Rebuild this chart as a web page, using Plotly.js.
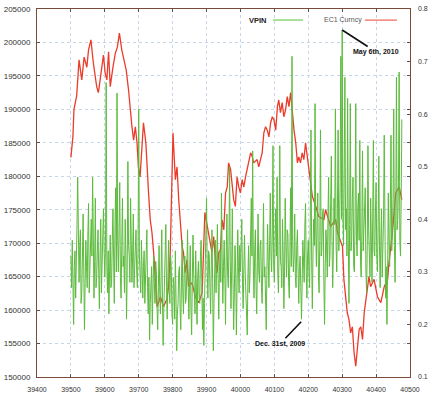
<!DOCTYPE html>
<html>
<head>
<meta charset="utf-8">
<script src="https://cdn.plot.ly/plotly-3.0.1.min.js"></script>
<style>html,body{margin:0;padding:0;background:#fff;}#chart{width:430px;height:400px;}</style>
</head>
<body>
<div id="chart"></div>
<script>
// EC1 Curncy (left axis)
const ecX = [39500,39506,39509,39517,39524,39532,39539,39547,39552,39559,39566,39576,39581,39591,39596,39601,39606,39611,39616,39624,39631,39637,39643,39650,39657,39663,39670,39675,39680,39685,39690,39695,39699,39704,39710,39714,39721,39724,39729,39734,39739,39744,39749,39754,39764,39773,39783,39788,39793,39798,39801,39808,39813,39818,39823,39828,39832,39837,39842,39847,39857,39867,39877,39887,39895,39902,39906,39911,39916,39921,39926,39931,39936,39941,39946,39951,39956,39961,39965,39971,39980,39985,39990,39995,40000,40005,40010,40015,40025,40030,40035,40039,40049,40054,40059,40064,40069,40074,40079,40084,40089,40094,40099,40104,40109,40113,40118,40123,40128,40133,40138,40143,40148,40153,40158,40163,40168,40172,40177,40182,40187,40192,40197,40202,40207,40212,40222,40231,40246,40251,40266,40281,40286,40301,40305,40310,40315,40320,40325,40330,40335,40340,40345,40350,40355,40360,40365,40370,40379,40384,40394,40404,40414,40424,40434,40438,40448,40458,40468,40476];
const ecY = [182800,186000,190000,192000,197400,194400,197800,196300,198900,200400,197000,193400,192500,196300,198100,195400,194400,198600,193400,196300,198400,199300,201400,198900,197400,195900,192900,189900,187400,185400,187400,185000,181400,179900,184000,188000,185000,181400,177500,173500,171600,168600,163500,160500,162000,160500,161600,163500,168600,177500,186500,179500,181400,176500,172500,169500,168600,165600,167500,163500,164100,162000,161100,162600,174600,172500,171600,169500,168600,171000,167500,165600,168600,169000,173500,172000,177500,178400,182000,181000,176500,175500,179900,178400,177500,179500,178400,179900,182500,183500,182900,182000,182500,181400,182500,183500,186500,187400,186900,185900,188000,188900,188400,186900,190400,191400,189500,191000,188900,189900,191900,190400,192500,188900,186900,185000,182000,182900,182000,183500,182500,185000,182900,181000,179500,177000,175500,174000,173500,175000,172500,173500,171600,169500,164600,162000,159600,158600,156600,157500,153700,151600,154600,157100,157500,155600,159600,161600,165000,163500,164600,162000,161100,163500,164600,167100,171600,177500,178400,176500];

// VPIN (right axis), sampled every 2 units from 39500
const vpinStart = 39500;
const vpinStep = 2;
const vpinY = [
0.33,0.27,0.36,0.29,0.20,0.31,0.34,0.25,0.30,0.39,0.48,0.32,0.28,0.35,0.38,0.24,0.26,0.33,0.41,0.30,0.19,0.28,0.36,0.31,0.27,0.37,0.43,0.26,0.30,0.35,0.40,0.33,0.48,0.37,0.25,0.32,0.44,0.27,0.29,0.34,0.38,0.30,0.23,0.33,0.40,0.26,0.31,0.36,0.42,0.34,
0.29,0.35,0.66,0.31,0.26,0.34,0.22,0.30,0.37,0.27,0.28,0.36,0.42,0.32,0.24,0.39,0.46,0.30,0.64,0.36,0.30,0.38,0.47,0.29,0.25,0.35,0.44,0.31,0.33,0.26,0.40,0.34,0.21,0.30,0.51,0.35,0.33,0.28,0.44,0.36,0.28,0.33,0.41,0.27,0.31,0.36,0.38,0.30,0.27,0.34,
0.61,0.33,0.30,0.26,0.36,0.29,0.25,0.31,0.34,0.24,0.28,0.33,0.38,0.27,0.22,0.29,0.17,0.24,0.27,0.31,0.20,0.25,0.33,0.28,0.24,0.32,0.30,0.23,0.19,0.27,0.35,0.26,0.22,0.30,0.38,0.25,0.16,0.23,0.30,0.34,0.39,0.27,0.21,0.29,0.36,0.26,0.24,0.33,0.31,0.22,
0.20,0.29,0.27,0.21,0.34,0.25,0.15,0.22,0.24,0.30,0.31,0.23,0.19,0.28,0.36,0.26,0.22,0.30,0.33,0.24,0.25,0.31,0.38,0.27,0.21,0.29,0.35,0.23,0.18,0.28,0.37,0.30,0.26,0.22,0.34,0.27,0.20,0.29,0.32,0.25,0.24,0.33,0.36,0.28,0.19,0.25,0.16,0.24,0.30,0.35,
0.44,0.30,0.25,0.34,0.33,0.27,0.22,0.31,0.38,0.28,0.15,0.24,0.31,0.36,0.26,0.32,0.39,0.29,0.21,0.30,0.34,0.28,0.45,0.33,0.24,0.31,0.36,0.29,0.20,0.33,0.41,0.30,0.27,0.35,0.50,0.32,0.23,0.30,0.42,0.28,0.19,0.26,0.35,0.30,0.18,0.27,0.38,0.31,0.26,0.35,
0.30,0.35,0.40,0.28,0.23,0.31,0.37,0.30,0.27,0.22,0.18,0.29,0.35,0.26,0.29,0.37,0.44,0.33,0.53,0.31,0.25,0.34,0.38,0.27,0.22,0.32,0.41,0.30,0.28,0.35,0.36,0.27,0.24,0.33,0.43,0.29,0.31,0.25,0.19,0.30,0.39,0.32,0.27,0.36,0.45,0.33,0.30,0.38,0.54,0.31,
0.28,0.36,0.42,0.33,0.48,0.30,0.26,0.35,0.54,0.32,0.31,0.27,0.40,0.33,0.23,0.30,0.44,0.35,0.29,0.38,0.37,0.28,0.25,0.34,0.46,0.31,0.71,0.36,0.30,0.33,0.41,0.29,0.27,0.35,0.38,0.30,0.24,0.31,0.33,0.27,0.21,0.28,0.36,0.32,0.28,0.39,0.43,0.30,0.25,0.33,
0.36,0.30,0.27,0.41,0.57,0.32,0.23,0.34,0.40,0.35,0.62,0.38,0.31,0.40,0.45,0.29,0.26,0.36,0.57,0.33,0.34,0.41,0.42,0.28,0.20,0.31,0.38,0.35,0.29,0.40,0.48,0.31,0.33,0.43,0.52,0.36,0.27,0.34,0.44,0.39,0.61,0.35,0.30,0.42,0.57,0.34,0.38,0.47,0.71,0.40,
0.76,0.41,0.35,0.50,0.67,0.38,0.42,0.33,0.63,0.36,0.24,0.39,0.62,0.34,0.36,0.44,0.48,0.31,0.30,0.40,0.62,0.37,0.33,0.42,0.45,0.36,0.55,0.32,0.29,0.38,0.53,0.34,0.37,0.43,0.46,0.30,0.26,0.35,0.54,0.38,0.35,0.29,0.44,0.37,0.28,0.40,0.55,0.34,0.33,0.41,
0.47,0.33,0.30,0.39,0.52,0.35,0.27,0.36,0.42,0.29,0.34,0.40,0.56,0.33,0.25,0.31,0.20,0.30,0.45,0.36,0.31,0.42,0.56,0.34,0.37,0.44,0.61,0.35,0.28,0.40,0.67,0.38,0.40,0.47,0.68,0.36,0.33,0.44,0.59
];
const vpinX = vpinY.map((_, i) => vpinStart + i * vpinStep);

const xTicks = [39400,39500,39600,39700,39800,39900,40000,40100,40200,40300,40400,40500];

const tickFamily = '"Liberation Sans Narrow", "Arial Narrow", "Liberation Sans", Arial, sans-serif';
const frame = '#7a4a3a';
const grid = '#c6d6e8';

const traces = [
  {x: ecX, y: ecY, type: 'scatter', mode: 'lines', name: 'EC1 Curncy',
   line: {color: '#ec3b2a', width: 1.3}, yaxis: 'y', showlegend: false, hoverinfo: 'skip'},
  {x: vpinX, y: vpinY, type: 'scatter', mode: 'lines', name: 'VPIN',
   line: {color: '#5cbb3c', width: 1}, yaxis: 'y2', showlegend: false, hoverinfo: 'skip'}
];

const layout = {
  width: 430, height: 400,
  margin: {l: 37, r: 20, t: 9, b: 23, pad: 0},
  paper_bgcolor: '#fff', plot_bgcolor: '#fff',
  showlegend: false,
  xaxis: {
    range: [39400, 40500], tickvals: xTicks, tickformat: 'd',
    showgrid: true, gridcolor: grid, griddash: 'dot', gridwidth: 1,
    showline: true, linecolor: frame, linewidth: 1, mirror: 'ticks',
    ticks: 'inside', ticklen: 3, tickcolor: '#555',
    tickfont: {family: tickFamily, size: 7, color: '#333'},
    zeroline: false, ticklabelstandoff: 6
  },
  yaxis: {
    range: [150000, 205000], dtick: 5000, tick0: 150000, tickformat: 'd',
    showgrid: true, gridcolor: grid, griddash: 'dot', gridwidth: 1,
    showline: true, linecolor: frame, linewidth: 1, mirror: 'ticks',
    ticks: 'inside', ticklen: 3, tickcolor: '#555',
    tickfont: {family: tickFamily, size: 8, color: '#333'},
    zeroline: false, ticklabelstandoff: 4
  },
  yaxis2: {
    overlaying: 'y', side: 'right',
    range: [0.1, 0.8], dtick: 0.1, tick0: 0.1, tickformat: '.1f',
    showgrid: false, showline: false, zeroline: false,
    ticks: 'inside', ticklen: 3, tickcolor: '#555',
    tickfont: {family: tickFamily, size: 7, color: '#333'},
    ticklabelstandoff: 7
  },
  shapes: [
    {type: 'rect', xref: 'paper', yref: 'paper', x0: 0.383, x1: 0.998, y0: 0.90, y1: 0.998,
     fillcolor: '#fff', line: {width: 0}, layer: 'between'},
    {type: 'line', xref: 'paper', yref: 'paper', x0: 0.633, x1: 0.713, y0: 0.970, y1: 0.970,
     line: {color: '#7ccf60', width: 1.3}},
    {type: 'line', xref: 'paper', yref: 'paper', x0: 0.879, x1: 0.965, y0: 0.970, y1: 0.970,
     line: {color: '#f06a5a', width: 1.3}}
  ],
  annotations: [
    {xref: 'paper', yref: 'paper', x: 0.563, y: 0.970, xanchor: 'left', yanchor: 'middle',
     text: '<b>VPIN</b>', showarrow: false,
     font: {family: 'Liberation Sans, Arial, sans-serif', size: 7.5, color: '#222'}},
    {xref: 'paper', yref: 'paper', x: 0.764, y: 0.970, xanchor: 'left', yanchor: 'middle',
     text: 'EC1 Curncy', showarrow: false,
     font: {family: 'Liberation Sans, Arial, sans-serif', size: 7, color: '#555'}},
    {xref: 'x', yref: 'y2', x: 40300, y: 0.76, ax: 34, ay: 22,
     text: '<b>May 6th, 2010</b>', showarrow: true, arrowhead: 0, arrowwidth: 1.6, arrowcolor: '#111',
     font: {family: 'Liberation Sans, Arial, sans-serif', size: 7, color: '#111'}},
    {xref: 'x', yref: 'y2', x: 40179, y: 0.205, ax: -21, ay: 22,
     text: '<b>Dec. 31st, 2009</b>', showarrow: true, arrowhead: 0, arrowwidth: 1.6, arrowcolor: '#111',
     font: {family: 'Liberation Sans, Arial, sans-serif', size: 7, color: '#111'}}
  ]
};

Plotly.newPlot('chart', traces, layout, {staticPlot: true, displayModeBar: false});
</script>
</body>
</html>
